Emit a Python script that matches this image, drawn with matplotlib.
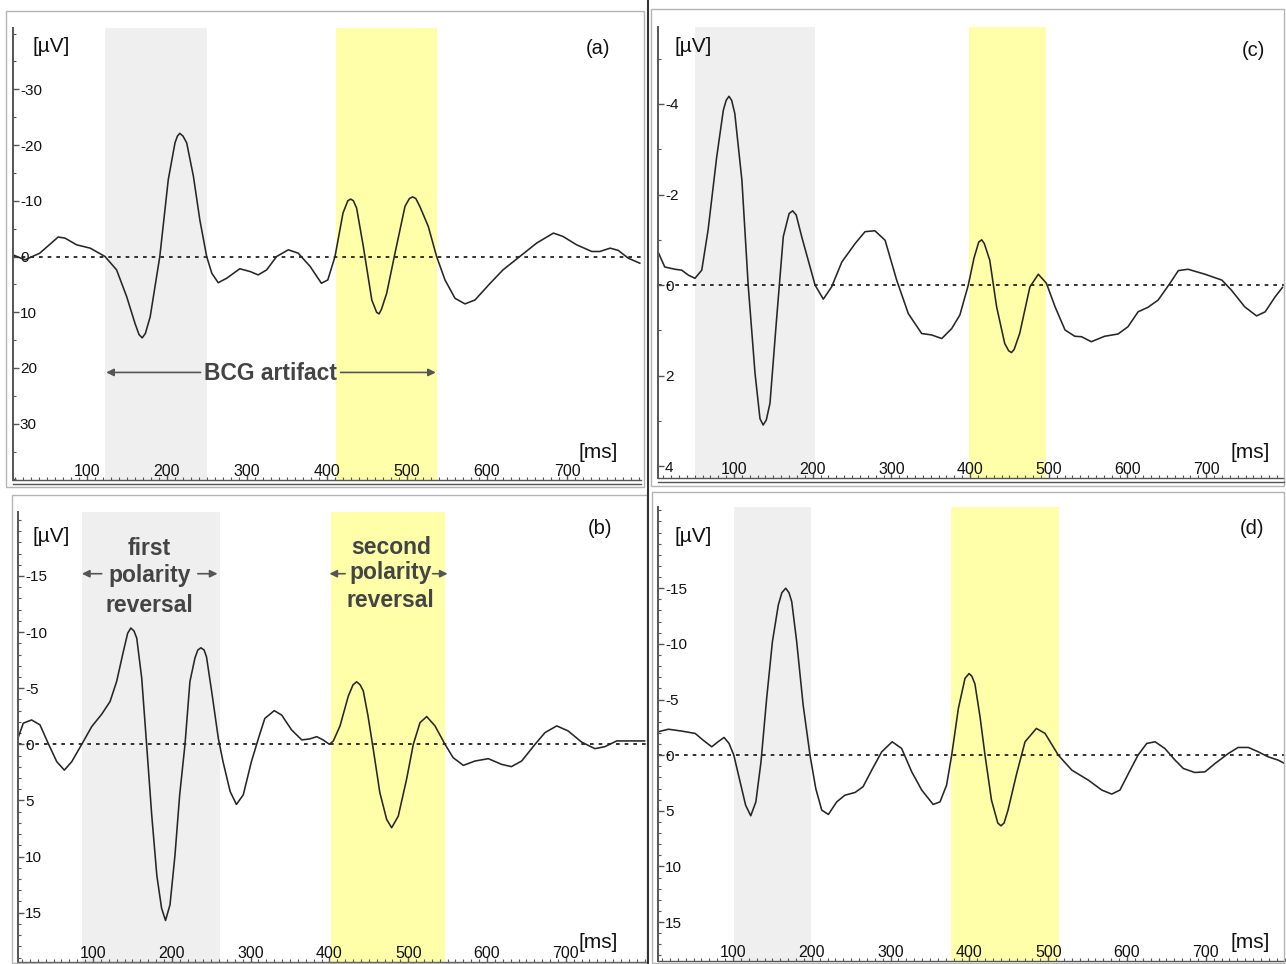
import matplotlib
matplotlib.use('Agg')
import matplotlib.pyplot as plt
from matplotlib.patches import Rectangle
from matplotlib.lines import Line2D
from matplotlib.ticker import MultipleLocator

plt.rcParams['font.family'] = ['Liberation Sans', 'DejaVu Sans']

# * figure size in pixels (dpi 100)
W, H = 1286, 964

# * ---- data (time in ms, amplitude in uV) ----
ms_ticks = [100, 200, 300, 400, 500, 600, 700]

a_ms = [7.5, 22.5, 41, 64, 72.5, 87, 104, 122.5, 137, 149.6, 160, 165, 169, 173, 179,
        191, 201.6, 210, 213, 216, 220, 224.6, 233, 241, 249.6, 256, 264, 274.6, 291,
        304, 314, 324.6, 337, 351.6, 364, 379, 393, 401, 410, 420, 426, 429.6, 433, 437,
        445.4, 456, 462, 465, 468, 474.6, 485, 497.5, 503, 507, 511, 516, 526.6, 537,
        547.5, 560, 572.5, 585, 604, 620, 641, 662, 683, 695, 712, 731, 741, 754, 764,
        776.6, 791]
a_uv = [-0.3, 0.6, -0.6, -3.5, -3.3, -2.1, -1.5, 0, 2.4, 7.2, 12, 14.0, 14.6, 13.8, 10.8,
        0, -13.8, -20.4, -21.6, -22.1, -21.6, -20.4, -14.4, -6.6, 0, 3, 4.7, 3.9, 2.2,
        2.7, 3.3, 2.4, 0, -1.2, -0.6, 1.8, 4.8, 4.2, 0, -7.8, -10.0, -10.3, -10.0, -8.7,
        -1.8, 7.8, 10.0, 10.3, 9.5, 6.6, -0.6, -9, -10.4, -10.7, -10.4, -9, -5.4, 0,
        4.2, 7.5, 8.5, 7.8, 4.8, 2.4, 0, -2.4, -4.2, -3.6, -2.1, -0.9, -0.9, -1.5, -1.1,
        0.3, 1.2]

c_ms = [3, 12, 25, 33.5, 42, 50.4, 59, 67, 78, 86.4, 90, 93.6, 97, 101, 110, 118, 126.7,
        133, 137, 141, 145.7, 154, 162.6, 170, 174.5, 179, 186, 203, 213.5, 224, 237,
        254, 266.5, 279, 292, 306.7, 321.5, 338.5, 351, 364, 376.6, 387, 397.7, 405,
        411, 414.7, 418, 425, 433.7, 444, 449, 452.6, 456, 463, 476, 486.7, 497, 508,
        520.6, 533, 541.6, 554, 571, 588, 600.6, 613.5, 626, 639, 654, 664.6, 677,
        698.5, 720, 732, 749, 764, 775, 787.6, 797]
c_uv = [-0.75, -0.4, -0.35, -0.33, -0.22, -0.15, -0.33, -1.21, -2.83, -3.86, -4.08, -4.17,
        -4.08, -3.79, -2.32, 0, 1.95, 2.95, 3.09, 2.98, 2.61, 0.77, -1.07, -1.58, -1.64,
        -1.55, -1.07, 0, 0.31, 0.04, -0.51, -0.92, -1.18, -1.2, -0.99, -0.11, 0.63,
        1.07, 1.1, 1.18, 0.96, 0.66, 0, -0.6, -0.95, -1.0, -0.92, -0.55, 0.48, 1.29,
        1.45, 1.49, 1.42, 1.07, 0.04, -0.24, -0.04, 0.48, 0.99, 1.13, 1.14, 1.25,
        1.13, 1.08, 0.92, 0.59, 0.49, 0.33, -0.04, -0.32, -0.35, -0.24, -0.11, 0.11,
        0.48, 0.68, 0.59, 0.26, 0.05]

b_ms = [5, 11.5, 22, 32.7, 43, 54, 63.6, 73, 85.7, 98.4, 111, 121.6, 130, 138.5, 144,
        148, 152, 155.5, 161.8, 168, 174.5, 181, 187, 192, 197.7, 204, 210, 216.75, 223,
        229.4, 233, 237, 241, 244, 250.6, 259, 265, 274, 282, 290.7, 301, 310, 318, 330,
        339.5, 352, 365, 375, 384, 392, 400, 405, 413.5, 424, 430, 434.6, 439, 443, 449,
        455.7, 464, 472.7, 479, 487.4, 498, 506.5, 515, 523.5, 534, 546.7, 557, 570,
        584.8, 601.7, 618.6, 631, 644, 661, 673.6, 688.5, 703, 720, 737, 749.7, 764.6,
        783.6, 800]
b_uv = [-0.6, -1.88, -2.17, -1.73, -0.1, 1.55, 2.3, 1.55, 0, -1.58, -2.68, -3.81, -5.6,
        -8.27, -9.9, -10.36, -10.1, -9.46, -5.9, 0, 6.3, 11.7, 14.6, 15.7, 14.3, 9.9,
        4.5, 0, -5.6, -7.7, -8.4, -8.6, -8.4, -7.8, -4.7, -0.54, 1.55, 4.2, 5.36, 4.5,
        1.55, -0.54, -2.3, -3.0, -2.6, -1.28, -0.39, -0.48, -0.68, -0.39, 0, -0.3,
        -1.64, -4.3, -5.3, -5.57, -5.3, -4.76, -2.53, 0.45, 4.3, 6.7, 7.44, 6.4, 3.1, 0,
        -1.93, -2.47, -1.64, 0, 1.19, 1.88, 1.49, 1.28, 1.79, 1.99, 1.49, 0, -1.04,
        -1.64, -1.19, -0.2, 0.39, 0.21, -0.3, -0.3, -0.3]

d_ms = [5, 18, 35, 52, 62, 73, 81, 88.6, 95, 101, 109, 116, 122.5, 129, 135.5, 142.7,
        150, 157.5, 162, 166.9, 171, 174.5, 180.8, 189, 197.7, 205, 212.6, 221, 231.6,
        242, 255, 265, 276, 288.7, 302, 314, 326.8, 339.5, 354, 362.7, 371, 377.5, 386,
        394.4, 399.5, 403, 407, 413.5, 419.8, 428, 436, 440, 444, 449, 460, 470.6, 485,
        496, 512.8, 530, 551, 568, 580.6, 591, 604, 614, 625, 635.6, 648, 661, 671.5,
        686, 699, 711.7, 728.6, 741, 754, 766.6, 779, 792, 800]
d_uv = [-2.1, -2.33, -2.16, -1.95, -1.35, -0.75, -1.2, -1.59, -1.05, 0, 2.4, 4.5, 5.45,
        4.2, 0.6, -5.1, -10.2, -13.5, -14.6, -15.0, -14.6, -13.8, -10.2, -4.5, 0, 3.0,
        4.94, 5.33, 4.2, 3.6, 3.35, 2.84, 1.35, -0.3, -1.2, -0.6, 1.5, 3.14, 4.43, 4.2,
        2.7, 0, -4.2, -6.9, -7.33, -7.1, -6.4, -3.44, 0, 4.04, 6.1, 6.35, 6.1, 4.94,
        1.65, -1.2, -2.4, -1.95, 0, 1.35, 2.25, 3.14, 3.5, 3.14, 1.35, 0, -1.05, -1.2,
        -0.6, 0.45, 1.2, 1.56, 1.5, 0.75, -0.15, -0.69, -0.69, -0.3, 0.15, 0.45, 0.75]

a_yticks = [-30, -20, -10, 0, 10, 20, 30]
c_yticks = [-4, -2, 0, 2, 4]
b_yticks = [-15, -10, -5, 0, 5, 10, 15]
d_yticks = [-15, -10, -5, 0, 5, 10, 15]

# shaded windows (ms): first and second polarity reversal
a_windows = [(122, 250), (411, 537)]
c_windows = [(50, 203), (398, 497)]
b_windows = [(86, 261), (402, 547)]
d_windows = [(101, 199), (377, 514)]

GRAY = '#efefef'
YELLOW = '#ffffa9'
INK = '#444444'

fig = plt.figure(figsize=(W / 100, H / 100), dpi=100)


def fig_box(x0, y0, x1, y1):
    # pixel box (top-left origin) -> figure fraction rect
    return [x0 / W, 1 - y1 / H, (x1 - x0) / W, (y1 - y0) / H]


def fig_text(x, y, s, **kw):
    fig.text(x / W, 1 - y / H, s, **kw)


def frame(x0, y0, x1, y1):
    fig.add_artist(Rectangle((x0 / W, 1 - y1 / H), (x1 - x0) / W, (y1 - y0) / H,
                             transform=fig.transFigure, fill=False,
                             ec='#b4b4b4', lw=1.0))


def panel(box, xlim, ylim, ms, uv, yticks, ystep, windows, tag, tag_xy, uv_xy, ms_xy):
    ax = fig.add_axes(fig_box(*box))
    ax.set_xlim(xlim)
    ax.set_ylim(ylim)
    ax.axvspan(*windows[0], color=GRAY, lw=0, zorder=0)
    ax.axvspan(*windows[1], color=YELLOW, lw=0, zorder=0)
    ax.axhline(0, color='#111111', lw=1.2, ls=(0, (2.2, 3.0)), zorder=1)
    ax.plot(ms, uv, color='#262626', lw=1.15, zorder=2)

    ax.set_yticks(yticks, labels=[str(v) for v in yticks], ha='left')
    ax.yaxis.set_minor_locator(MultipleLocator(ystep))
    ax.set_xticks(ms_ticks, labels=[str(v) for v in ms_ticks], va='bottom')
    ax.xaxis.set_minor_locator(MultipleLocator(10))
    ax.tick_params(axis='y', which='major', direction='in', pad=-5, length=4,
                   width=1, color='#555555', labelsize=11, labelcolor='#111111')
    ax.tick_params(axis='y', which='minor', direction='in', length=2.5,
                   width=0.8, color='#555555')
    ax.tick_params(axis='x', which='major', direction='in', pad=-1, length=4,
                   width=1, color='#555555', labelsize=11.5, labelcolor='#111111')
    ax.tick_params(axis='x', which='minor', direction='in', length=2,
                   width=0.8, color='#555555')
    for side in ['top', 'right']:
        ax.spines[side].set_visible(False)
    ax.spines['left'].set_color('#555555')
    ax.spines['left'].set_linewidth(1.4)
    ax.spines['bottom'].set_color('#555555')
    ax.spines['bottom'].set_linewidth(1.0)

    # second ruler line under the time axis
    x0, y0, x1, y1 = box
    fig.add_artist(Line2D([x0 / W, x1 / W], [1 - (y1 + 4) / H] * 2,
                          transform=fig.transFigure, color='#555555', lw=1.0))

    fig_text(*uv_xy, '[µV]', fontsize=15, ha='center', va='center', color='#111111')
    fig_text(*ms_xy, '[ms]', fontsize=15, ha='center', va='center', color='#111111')
    fig_text(*tag_xy, tag, fontsize=14.5, ha='center', va='center', color='#111111')
    return ax


# * frames round each panel
frame(6, 11, 644, 487)
frame(651, 9, 1284, 486)
frame(12, 495, 647, 963)
frame(652, 492, 1284, 963)
fig.add_artist(Line2D([648 / W] * 2, [0, 1], transform=fig.transFigure,
                      color='#333333', lw=1.5))

ax_a = panel((13, 28, 641, 480), (7.5, 792.5), (40.1, -41.0), a_ms, a_uv,
             a_yticks, 5, a_windows, '(a)', (598, 49), (51, 46), (598, 453))
ax_c = panel((658, 27, 1284, 478), (3.4, 798.9), (4.26, -5.7), c_ms, c_uv,
             c_yticks, 1, c_windows, '(c)', (1253, 50), (693, 46), (1250, 453))
ax_b = panel((18, 512, 646, 962), (4.8, 801.8), (19.4, -20.7), b_ms, b_uv,
             b_yticks, 1, b_windows, '(b)', (600, 528), (51, 536), (598, 943))
ax_d = panel((658, 507, 1285, 961), (4.8, 800.5), (18.5, -22.3), d_ms, d_uv,
             d_yticks, 1, d_windows, '(d)', (1252, 528), (693, 536), (1250, 943))

# * annotations
arrow = dict(arrowstyle='-|>', color='#555555', lw=1.2, mutation_scale=11,
             shrinkA=0, shrinkB=0)
bold = dict(fontsize=16.5, fontweight='bold', color=INK, ha='center')

ax_a.text(329, 22.1, 'BCG artifact', va='baseline', **bold)
ax_a.annotate('', xy=(124, 20.8), xytext=(242, 20.8), arrowprops=arrow)
ax_a.annotate('', xy=(536, 20.8), xytext=(417, 20.8), arrowprops=arrow)

for word, y in zip(['first', 'polarity', 'reversal'], [-16.9, -14.5, -11.8]):
    ax_b.text(172, y, word, va='baseline', **bold)
for word, y in zip(['second', 'polarity', 'reversal'], [-17.0, -14.7, -12.2]):
    ax_b.text(478, y, word, va='baseline', **bold)
ax_b.annotate('', xy=(86, -15.2), xytext=(111, -15.2), arrowprops=arrow)
ax_b.annotate('', xy=(258, -15.2), xytext=(233, -15.2), arrowprops=arrow)
ax_b.annotate('', xy=(400, -15.2), xytext=(420, -15.2), arrowprops=arrow)
ax_b.annotate('', xy=(550, -15.2), xytext=(531, -15.2), arrowprops=arrow)

fig.savefig('out.png', dpi=100, facecolor='white')
